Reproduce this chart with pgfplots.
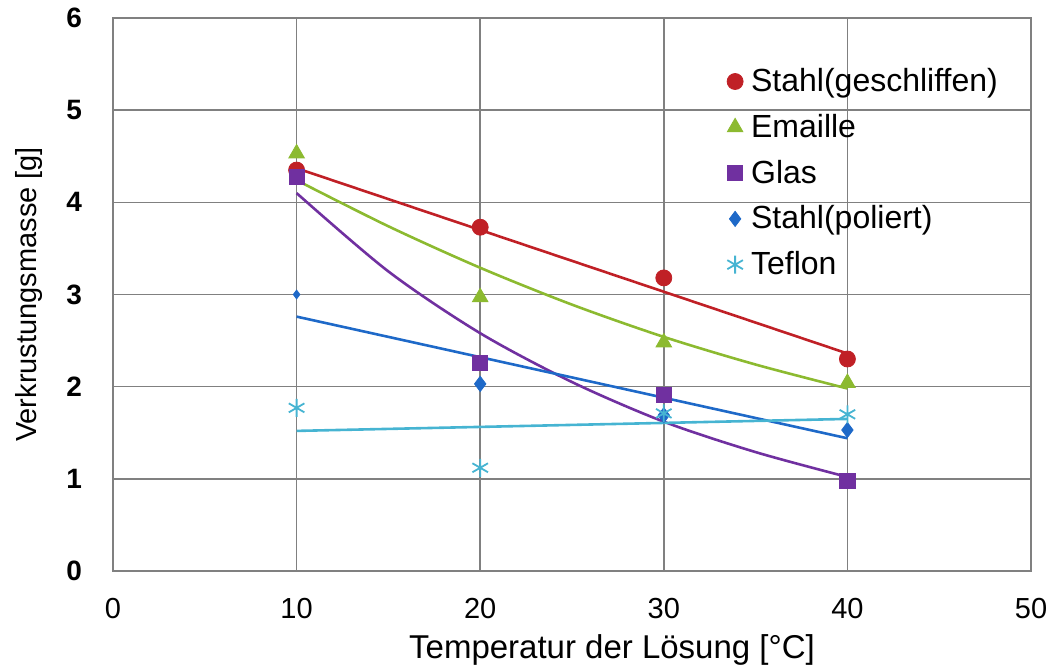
\documentclass[border=0pt]{standalone}
\usepackage{pgfplots}
\pgfplotsset{compat=1.18}
\usepackage{fontspec}
\setmainfont{Liberation Sans}
\definecolor{cred}{RGB}{192,32,38}
\definecolor{cgreen}{RGB}{140,186,48}
\definecolor{cpurple}{RGB}{112,48,160}
\definecolor{cblue}{RGB}{30,105,200}
\definecolor{ccyan}{RGB}{70,180,210}
\definecolor{cgrid}{RGB}{128,128,128}
\begin{document}
\begin{tikzpicture}
\begin{axis}[
  at={(0,0)}, anchor=south west,
  scale only axis, width=459pt, height=276.5pt,
  xmin=0, xmax=50, ymin=0, ymax=6,
  xtick={0,10,...,50}, ytick={0,1,...,6},
  grid=major,
  grid style={cgrid, line width=0.8pt},
  axis line style={cgrid, line width=0.8pt},
  tick style={draw=none},
  /pgf/number format/assume math mode=true,
  xticklabel style={font=\fontsize{14.5}{16}\selectfont, yshift=-10pt},
  yticklabel style={font=\fontsize{14}{16}\selectfont\bfseries, xshift=-12pt},
  xlabel={Temperatur der Lösung [°C]},
  ylabel={Verkrustungsmasse [g]},
  xlabel style={font=\fontsize{16.5}{18}\selectfont, yshift=-1pt, xshift=20pt},
  ylabel style={font=\fontsize{14.5}{16}\selectfont, yshift=5pt},
  legend style={draw=none, fill=none, at={(0.662,0.924)}, anchor=north west,
    font=\fontsize{16}{17}\selectfont, row sep=5.8pt,
    nodes={inner xsep=4pt}},
  legend cell align=left,
  clip=false,
]
% trend lines
\addplot[cred, line width=1.3pt, forget plot] coordinates {(10,4.37) (40,2.36)};
\addplot[cgreen, line width=1.3pt, smooth, forget plot] coordinates {(10,4.24) (15,3.74) (20,3.29) (25,2.89) (30,2.54) (35,2.24) (40,1.98)};
\addplot[cpurple, line width=1.3pt, smooth, forget plot] coordinates {(10,4.10) (15,3.25) (20,2.58) (25,2.05) (30,1.62) (35,1.29) (40,1.02)};
\addplot[cblue, line width=1.3pt, forget plot] coordinates {(10,2.76) (40,1.44)};
\addplot[ccyan, line width=1.3pt, forget plot] coordinates {(10,1.52) (40,1.65)};
% data
\addplot[only marks, mark=*, mark size=4pt, cred, mark options={fill=cred, draw=cred}] coordinates {(10,4.35) (20,3.73) (30,3.18) (40,2.30)};
\addlegendentry{Stahl(geschliffen)}
\addplot[only marks, mark=triangle*, mark size=4.5pt, cgreen, mark options={fill=cgreen, draw=cgreen}] coordinates {(10,4.53) (20,2.97) (30,2.48) (40,2.04)};
\addlegendentry{Emaille}
\addplot[only marks, mark=square*, mark size=3.8pt, cpurple, mark options={fill=cpurple, draw=cpurple}] coordinates {(10,4.28) (20,2.26) (30,1.91) (40,0.98)};
\addlegendentry{Glas}
\addplot[only marks, mark=diamond*, mark size=3.8pt, cblue, mark options={fill=cblue, draw=cblue}] coordinates {(20,2.03) (30,1.69) (40,1.53)};
\addlegendentry{Stahl(poliert)}
\addplot[only marks, mark=asterisk, mark size=4.5pt, ccyan, mark options={draw=ccyan, line width=0.9pt}] coordinates {(10,1.77) (20,1.12) (30,1.71) (40,1.70)};
\addlegendentry{Teflon}
\addplot[only marks, mark=diamond*, mark size=2.2pt, cblue, mark options={fill=cblue, draw=cblue}, forget plot] coordinates {(10,3.00)};
\end{axis}
\pgfresetboundingbox
\path (-56.5pt,-48pt) rectangle (470.5pt,285.5pt);
\end{tikzpicture}
\end{document}
